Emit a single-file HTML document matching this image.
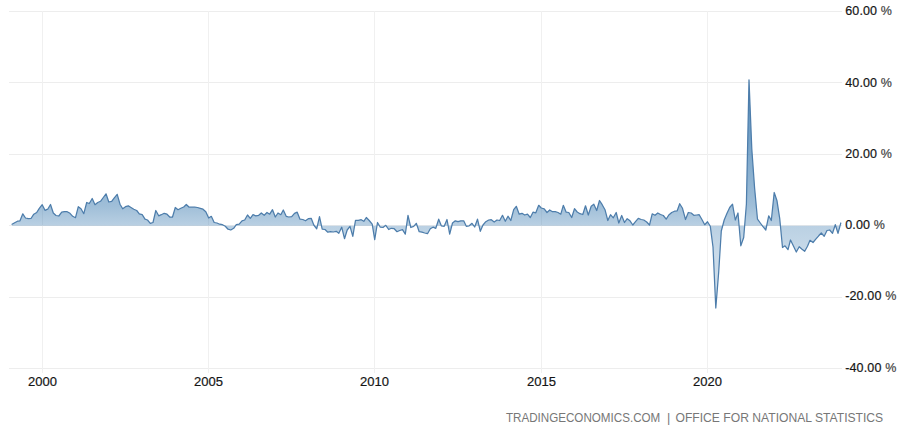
<!DOCTYPE html>
<html><head><meta charset="utf-8"><title>Chart</title>
<style>
html,body{margin:0;padding:0;background:#fff;}
body{width:900px;height:426px;overflow:hidden;font-family:"Liberation Sans",sans-serif;}
svg{display:block;}
.g{stroke:#ededed;stroke-width:1;shape-rendering:crispEdges;}
.v{stroke:#f0f0f0;}
.yl{font-size:12.5px;fill:#151515;letter-spacing:0.15px;stroke:#151515;stroke-width:0.2px;font-family:"Liberation Sans",sans-serif;}
.pc{fill:#444;stroke:#444;}
.xl{font-size:13px;fill:#151515;stroke:#151515;stroke-width:0.2px;font-family:"Liberation Sans",sans-serif;}
.ft{font-size:12.6px;fill:#777;font-family:"Liberation Sans",sans-serif;}
</style></head><body>
<svg width="900" height="426" viewBox="0 0 900 426">
<defs><linearGradient id="fg" gradientUnits="userSpaceOnUse" x1="0" y1="78" x2="0" y2="310">
<stop offset="0" stop-color="#4682b4" stop-opacity="0.95"/>
<stop offset="0.55" stop-color="#4682b4" stop-opacity="0.52"/>
<stop offset="0.64" stop-color="#4682b4" stop-opacity="0.37"/>
<stop offset="0.75" stop-color="#4682b4" stop-opacity="0.30"/>
<stop offset="1" stop-color="#4682b4" stop-opacity="0.24"/>
</linearGradient></defs>
<rect width="900" height="426" fill="#fff"/>
<line x1="9" y1="11.5" x2="842" y2="11.5" class="g"/>
<line x1="9" y1="82.5" x2="842" y2="82.5" class="g"/>
<line x1="9" y1="154.5" x2="842" y2="154.5" class="g"/>
<line x1="9" y1="225.5" x2="842" y2="225.5" class="g"/>
<line x1="9" y1="297.5" x2="842" y2="297.5" class="g"/>
<line x1="9" y1="368.5" x2="842" y2="368.5" class="g"/>
<line x1="42.5" y1="11" x2="42.5" y2="373" class="g v"/>
<line x1="208.5" y1="11" x2="208.5" y2="373" class="g v"/>
<line x1="374.5" y1="11" x2="374.5" y2="373" class="g v"/>
<line x1="541.5" y1="11" x2="541.5" y2="373" class="g v"/>
<line x1="707.5" y1="11" x2="707.5" y2="373" class="g v"/>
<path d="M12.0 224.2 L14.7 222.7 L17.5 221.2 L20.0 220.8 L22.8 213.8 L25.5 218.0 L28.3 218.7 L31.0 218.5 L33.8 214.2 L36.7 212.5 L39.3 208.3 L42.2 204.7 L45.0 210.3 L47.7 209.2 L50.5 204.5 L53.3 213.0 L56.0 215.5 L58.8 216.0 L61.7 212.2 L64.3 211.7 L67.2 211.7 L70.0 213.3 L72.7 216.3 L75.5 217.7 L78.3 206.7 L81.0 208.7 L83.8 213.7 L86.7 202.5 L89.3 203.5 L92.2 198.5 L95.0 204.7 L97.7 202.5 L100.5 201.3 L103.3 197.5 L106.0 193.8 L108.8 202.0 L111.7 201.3 L114.3 197.8 L117.2 194.3 L120.0 204.2 L122.7 208.8 L125.5 206.7 L128.3 205.8 L131.0 207.5 L133.8 209.2 L136.7 210.5 L139.3 213.8 L142.2 214.7 L145.0 219.2 L147.5 220.0 L150.3 223.3 L153.0 222.5 L155.8 210.5 L158.7 215.8 L161.3 214.7 L164.2 213.3 L167.0 214.2 L169.7 217.0 L172.5 217.0 L175.3 207.5 L178.0 209.7 L180.8 208.3 L183.7 207.0 L186.3 204.5 L189.2 207.2 L192.0 207.2 L194.7 207.2 L197.5 207.5 L200.3 208.3 L203.0 209.2 L205.8 211.7 L208.7 218.0 L211.3 216.3 L214.2 222.5 L217.0 223.0 L219.7 224.2 L222.5 224.7 L225.3 226.3 L228.0 229.2 L230.8 230.0 L233.7 228.3 L236.3 224.7 L239.2 224.2 L242.0 220.8 L244.7 220.0 L247.5 215.0 L250.3 218.3 L253.0 214.7 L255.8 215.8 L258.7 215.3 L261.3 213.0 L264.2 215.3 L267.0 212.5 L269.7 214.2 L272.5 209.7 L275.3 217.0 L278.0 213.0 L280.8 214.7 L283.3 210.0 L286.2 216.3 L288.8 217.0 L291.7 216.7 L294.5 213.3 L297.2 212.2 L300.0 219.2 L302.8 219.5 L305.5 220.8 L308.3 218.7 L311.2 218.3 L313.8 225.0 L316.7 228.8 L319.5 216.7 L322.2 229.2 L325.0 229.5 L327.8 232.2 L330.5 231.7 L333.3 232.0 L336.2 231.3 L338.8 233.3 L341.7 227.2 L344.5 238.7 L347.2 230.0 L350.0 226.3 L352.8 236.3 L355.5 220.3 L358.3 220.3 L361.2 219.7 L363.8 221.3 L366.3 217.5 L369.2 220.5 L372.2 224.2 L374.7 239.7 L377.5 222.5 L380.3 227.2 L383.0 227.5 L385.8 225.3 L388.7 229.5 L391.3 228.3 L394.2 228.7 L397.0 231.7 L399.7 230.5 L402.5 229.7 L405.3 234.2 L408.0 215.3 L410.8 227.5 L413.7 226.3 L416.3 223.3 L419.2 231.7 L422.0 232.2 L424.7 233.0 L427.5 233.7 L430.3 228.8 L433.0 227.2 L435.8 228.3 L438.7 219.2 L441.3 225.8 L444.2 226.3 L447.0 219.5 L449.7 234.2 L452.5 223.0 L455.3 220.8 L458.0 221.7 L460.8 220.8 L463.7 220.8 L466.3 226.3 L469.2 225.8 L472.0 223.3 L474.7 227.0 L477.5 219.2 L480.3 231.3 L483.0 225.0 L485.8 221.7 L488.7 220.0 L491.3 219.7 L494.2 222.0 L497.0 220.0 L499.7 220.5 L502.5 215.3 L505.3 221.3 L508.0 216.2 L510.8 220.5 L513.7 209.7 L516.3 206.3 L519.2 214.2 L522.0 213.3 L524.7 215.0 L527.5 214.2 L530.3 217.5 L533.0 212.2 L535.8 212.8 L538.7 205.3 L541.3 208.0 L544.2 208.8 L547.0 212.5 L549.7 210.0 L552.5 211.7 L555.3 211.7 L558.0 212.5 L560.8 214.2 L563.3 205.3 L566.2 212.2 L568.8 212.5 L571.7 217.5 L574.5 208.7 L577.2 212.0 L580.0 213.7 L582.8 214.5 L585.5 205.8 L588.3 215.0 L591.2 206.2 L593.8 204.2 L596.7 210.5 L599.5 200.5 L602.2 204.7 L605.0 209.7 L607.8 220.5 L610.5 214.7 L613.3 217.8 L616.2 212.5 L618.8 223.0 L621.7 215.5 L624.5 222.5 L627.2 218.7 L630.0 220.8 L632.8 225.0 L635.5 221.7 L638.3 218.3 L641.2 219.5 L643.8 220.0 L646.7 222.0 L649.5 225.0 L652.2 213.8 L655.0 215.3 L657.8 213.0 L660.5 214.5 L663.3 215.5 L666.2 219.2 L668.8 215.0 L671.7 212.5 L674.5 211.2 L677.2 210.8 L679.7 203.7 L682.5 208.3 L685.5 219.5 L688.3 212.5 L691.2 213.0 L693.8 215.3 L696.7 215.0 L699.2 214.7 L702.2 220.0 L704.7 224.7 L707.5 221.7 L710.3 226.3 L713.0 247.0 L715.8 308.0 L718.7 272.0 L721.3 231.0 L724.2 220.0 L727.0 213.3 L729.7 207.5 L732.5 204.2 L735.3 220.0 L738.0 213.0 L740.8 245.8 L743.7 237.5 L746.4 204.0 L749.0 79.8 L751.8 149.0 L754.6 188.0 L757.5 219.2 L760.3 223.0 L763.0 226.7 L765.8 230.0 L768.7 215.8 L771.3 220.5 L774.2 192.5 L777.0 200.8 L779.7 218.3 L782.5 247.5 L785.0 245.8 L788.0 249.7 L790.5 240.0 L793.3 245.8 L796.3 252.0 L799.2 246.7 L802.0 249.2 L804.7 251.3 L807.5 246.3 L810.0 240.3 L813.0 242.5 L815.8 239.2 L818.7 235.8 L821.3 233.0 L824.2 236.3 L827.0 230.5 L829.7 230.0 L832.5 233.3 L835.3 224.7 L838.0 233.3 L840.8 223.0 L840.8 225.7 L12.0 225.7 Z" fill="url(#fg)" stroke="none"/>
<path d="M12.0 224.2 L14.7 222.7 L17.5 221.2 L20.0 220.8 L22.8 213.8 L25.5 218.0 L28.3 218.7 L31.0 218.5 L33.8 214.2 L36.7 212.5 L39.3 208.3 L42.2 204.7 L45.0 210.3 L47.7 209.2 L50.5 204.5 L53.3 213.0 L56.0 215.5 L58.8 216.0 L61.7 212.2 L64.3 211.7 L67.2 211.7 L70.0 213.3 L72.7 216.3 L75.5 217.7 L78.3 206.7 L81.0 208.7 L83.8 213.7 L86.7 202.5 L89.3 203.5 L92.2 198.5 L95.0 204.7 L97.7 202.5 L100.5 201.3 L103.3 197.5 L106.0 193.8 L108.8 202.0 L111.7 201.3 L114.3 197.8 L117.2 194.3 L120.0 204.2 L122.7 208.8 L125.5 206.7 L128.3 205.8 L131.0 207.5 L133.8 209.2 L136.7 210.5 L139.3 213.8 L142.2 214.7 L145.0 219.2 L147.5 220.0 L150.3 223.3 L153.0 222.5 L155.8 210.5 L158.7 215.8 L161.3 214.7 L164.2 213.3 L167.0 214.2 L169.7 217.0 L172.5 217.0 L175.3 207.5 L178.0 209.7 L180.8 208.3 L183.7 207.0 L186.3 204.5 L189.2 207.2 L192.0 207.2 L194.7 207.2 L197.5 207.5 L200.3 208.3 L203.0 209.2 L205.8 211.7 L208.7 218.0 L211.3 216.3 L214.2 222.5 L217.0 223.0 L219.7 224.2 L222.5 224.7 L225.3 226.3 L228.0 229.2 L230.8 230.0 L233.7 228.3 L236.3 224.7 L239.2 224.2 L242.0 220.8 L244.7 220.0 L247.5 215.0 L250.3 218.3 L253.0 214.7 L255.8 215.8 L258.7 215.3 L261.3 213.0 L264.2 215.3 L267.0 212.5 L269.7 214.2 L272.5 209.7 L275.3 217.0 L278.0 213.0 L280.8 214.7 L283.3 210.0 L286.2 216.3 L288.8 217.0 L291.7 216.7 L294.5 213.3 L297.2 212.2 L300.0 219.2 L302.8 219.5 L305.5 220.8 L308.3 218.7 L311.2 218.3 L313.8 225.0 L316.7 228.8 L319.5 216.7 L322.2 229.2 L325.0 229.5 L327.8 232.2 L330.5 231.7 L333.3 232.0 L336.2 231.3 L338.8 233.3 L341.7 227.2 L344.5 238.7 L347.2 230.0 L350.0 226.3 L352.8 236.3 L355.5 220.3 L358.3 220.3 L361.2 219.7 L363.8 221.3 L366.3 217.5 L369.2 220.5 L372.2 224.2 L374.7 239.7 L377.5 222.5 L380.3 227.2 L383.0 227.5 L385.8 225.3 L388.7 229.5 L391.3 228.3 L394.2 228.7 L397.0 231.7 L399.7 230.5 L402.5 229.7 L405.3 234.2 L408.0 215.3 L410.8 227.5 L413.7 226.3 L416.3 223.3 L419.2 231.7 L422.0 232.2 L424.7 233.0 L427.5 233.7 L430.3 228.8 L433.0 227.2 L435.8 228.3 L438.7 219.2 L441.3 225.8 L444.2 226.3 L447.0 219.5 L449.7 234.2 L452.5 223.0 L455.3 220.8 L458.0 221.7 L460.8 220.8 L463.7 220.8 L466.3 226.3 L469.2 225.8 L472.0 223.3 L474.7 227.0 L477.5 219.2 L480.3 231.3 L483.0 225.0 L485.8 221.7 L488.7 220.0 L491.3 219.7 L494.2 222.0 L497.0 220.0 L499.7 220.5 L502.5 215.3 L505.3 221.3 L508.0 216.2 L510.8 220.5 L513.7 209.7 L516.3 206.3 L519.2 214.2 L522.0 213.3 L524.7 215.0 L527.5 214.2 L530.3 217.5 L533.0 212.2 L535.8 212.8 L538.7 205.3 L541.3 208.0 L544.2 208.8 L547.0 212.5 L549.7 210.0 L552.5 211.7 L555.3 211.7 L558.0 212.5 L560.8 214.2 L563.3 205.3 L566.2 212.2 L568.8 212.5 L571.7 217.5 L574.5 208.7 L577.2 212.0 L580.0 213.7 L582.8 214.5 L585.5 205.8 L588.3 215.0 L591.2 206.2 L593.8 204.2 L596.7 210.5 L599.5 200.5 L602.2 204.7 L605.0 209.7 L607.8 220.5 L610.5 214.7 L613.3 217.8 L616.2 212.5 L618.8 223.0 L621.7 215.5 L624.5 222.5 L627.2 218.7 L630.0 220.8 L632.8 225.0 L635.5 221.7 L638.3 218.3 L641.2 219.5 L643.8 220.0 L646.7 222.0 L649.5 225.0 L652.2 213.8 L655.0 215.3 L657.8 213.0 L660.5 214.5 L663.3 215.5 L666.2 219.2 L668.8 215.0 L671.7 212.5 L674.5 211.2 L677.2 210.8 L679.7 203.7 L682.5 208.3 L685.5 219.5 L688.3 212.5 L691.2 213.0 L693.8 215.3 L696.7 215.0 L699.2 214.7 L702.2 220.0 L704.7 224.7 L707.5 221.7 L710.3 226.3 L713.0 247.0 L715.8 308.0 L718.7 272.0 L721.3 231.0 L724.2 220.0 L727.0 213.3 L729.7 207.5 L732.5 204.2 L735.3 220.0 L738.0 213.0 L740.8 245.8 L743.7 237.5 L746.4 204.0 L749.0 79.8 L751.8 149.0 L754.6 188.0 L757.5 219.2 L760.3 223.0 L763.0 226.7 L765.8 230.0 L768.7 215.8 L771.3 220.5 L774.2 192.5 L777.0 200.8 L779.7 218.3 L782.5 247.5 L785.0 245.8 L788.0 249.7 L790.5 240.0 L793.3 245.8 L796.3 252.0 L799.2 246.7 L802.0 249.2 L804.7 251.3 L807.5 246.3 L810.0 240.3 L813.0 242.5 L815.8 239.2 L818.7 235.8 L821.3 233.0 L824.2 236.3 L827.0 230.5 L829.7 230.0 L832.5 233.3 L835.3 224.7 L838.0 233.3 L840.8 223.0" fill="none" stroke="#4d7dab" stroke-width="1.25" stroke-linejoin="round" stroke-linecap="round"/>
<text x="845.2" y="14.7" class="yl">60.00 <tspan class="pc">%</tspan></text>
<text x="845.2" y="87.1" class="yl">40.00 <tspan class="pc">%</tspan></text>
<text x="845.2" y="158.2" class="yl">20.00 <tspan class="pc">%</tspan></text>
<text x="845.2" y="229.2" class="yl">0.00 <tspan class="pc">%</tspan></text>
<text x="845.2" y="300.4" class="yl">-20.00 <tspan class="pc">%</tspan></text>
<text x="845.2" y="371.8" class="yl">-40.00 <tspan class="pc">%</tspan></text>
<text x="42.5" y="386" text-anchor="middle" class="xl">2000</text>
<text x="208.5" y="386" text-anchor="middle" class="xl">2005</text>
<text x="374.5" y="386" text-anchor="middle" class="xl">2010</text>
<text x="541.5" y="386" text-anchor="middle" class="xl">2015</text>
<text x="707.5" y="386" text-anchor="middle" class="xl">2020</text>
<text y="421.7" class="ft"><tspan x="505.9" textLength="154.4" lengthAdjust="spacingAndGlyphs">TRADINGECONOMICS.COM</tspan><tspan x="666.9">|</tspan><tspan x="675.5" textLength="207.7" lengthAdjust="spacingAndGlyphs">OFFICE FOR NATIONAL STATISTICS</tspan></text>
</svg>
</body></html>
